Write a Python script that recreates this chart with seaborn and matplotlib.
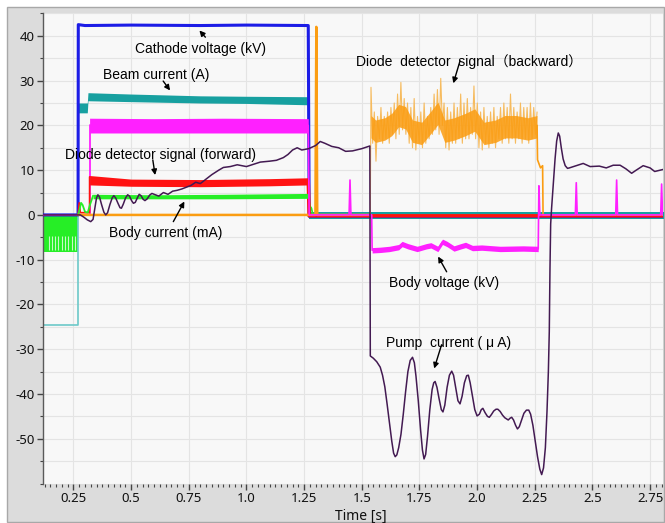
import numpy as np
import pandas as pd
import matplotlib
matplotlib.use("Agg")
import matplotlib.pyplot as plt
import seaborn as sns
from matplotlib.patches import Rectangle
from matplotlib.ticker import MultipleLocator, FixedLocator

# ---------------- data ----------------
xtick_vals = [0.25, 0.5, 0.75, 1.0, 1.25, 1.5, 1.75, 2.0, 2.25, 2.5, 2.75]
xtick_labels = ['0.25', '0.5', '0.75', '1.0', '1.25', '1.5', '1.75', '2.0', '2.25', '2.5', '2.75']
ytick_vals = [-50, -40, -30, -20, -10, 0, 10, 20, 30, 40]
ytick_labels = ['-50', '-40', '-30', '-20', '-10', '0', '10', '20', '30', '40']

# Cathode voltage (kV)
cathode_t = [0.12, 0.27, 0.271, 0.30, 0.5, 0.8, 1.0, 1.268, 1.272, 1.6, 2.81]
cathode_v = [0.0, 0.0, 42.5, 42.3, 42.4, 42.3, 42.4, 42.3, -0.3, -0.3, -0.3]

# Beam current (A)
beam_pre_t = [0.12, 0.27, 0.27]
beam_pre_v = [-24.5, -24.5, 23.5]
beam_t = [0.27, 0.31, 0.313, 0.5, 0.8, 1.0, 1.268]
beam_lo = [22.8, 22.8, 25.5, 25.3, 25.0, 24.9, 24.6]
beam_hi = [25.0, 25.0, 27.3, 27.0, 26.6, 26.5, 26.4]
beam_drop_t = [1.268, 1.272]
beam_drop_v = [25.5, -0.3]
beam_post_t = [1.272, 2.81]
beam_post_lo = [-1.0, -1.0]
beam_post_hi = [0.6, 0.6]

# Body voltage (kV)
bodyv_pre_t = [0.12, 0.32, 0.32]
bodyv_pre_v = [0.0, 0.0, 20.0]
bodyv_band_t = [0.32, 0.6, 0.9, 1.268]
bodyv_band_lo = [18.3, 18.3, 18.3, 18.3]
bodyv_band_hi = [21.6, 21.5, 21.6, 21.5]
bodyv_post_t = [1.268, 1.272, 1.445, 1.449, 1.453, 1.543, 1.545, 1.58, 1.62, 1.66, 1.675, 1.70,
                1.74, 1.78, 1.80, 1.83, 1.85, 1.87, 1.90, 1.93, 1.95, 1.98, 2.02, 2.10, 2.20,
                2.265, 2.268, 2.272, 2.426, 2.43, 2.434, 2.601, 2.605, 2.609, 2.796, 2.80,
                2.804, 2.81]
bodyv_post_v = [20.0, 0.0, 0.0, 7.8, 0.0, 0.0, -7.9, -7.8, -7.6, -7.2, -6.5, -7.0,
                -7.6, -7.0, -6.8, -7.6, -6.0, -6.5, -7.5, -7.0, -6.7, -7.4, -7.3, -7.6, -7.5,
                -7.6, 6.5, 0.0, 0.0, 7.2, 0.0, 0.0, 7.8, 0.0, 0.0, 6.9,
                0.0, 0.0]
bodyv_neg_t = [1.545, 1.58, 1.62, 1.66, 1.675, 1.70, 1.74, 1.78, 1.80, 1.83, 1.85, 1.87,
               1.90, 1.93, 1.95, 1.98, 2.02, 2.10, 2.20, 2.265]
bodyv_neg_v = [-7.9, -7.8, -7.6, -7.2, -6.5, -7.0, -7.6, -7.0, -6.8, -7.6, -6.0, -6.5,
               -7.5, -7.0, -6.7, -7.4, -7.3, -7.6, -7.5, -7.6]

# Diode detector signal (forward)
fwd_pre_t = [0.27, 0.275, 0.28, 0.32, 0.32]
fwd_pre_v = [0.0, 2.7, 0.5, 0.5, 8.5]
fwd_t = [0.32, 0.5, 0.8, 1.1, 1.268]
fwd_lo = [6.7, 6.4, 6.3, 6.5, 6.7]
fwd_hi = [8.8, 8.0, 7.9, 8.1, 8.3]
fwd_post_t = [1.268, 1.272, 2.81]
fwd_post_v = [7.5, -0.2, -0.2]

# Body current (mA)
bodyc_pre_t = [0.12, 0.27]
bodyc_pre_lo = [-8.3, -8.3]
bodyc_pre_hi = [0.0, 0.0]
bodyc_gap_t = [0.142, 0.156, 0.171, 0.185, 0.200, 0.214, 0.228, 0.243, 0.257]
bodyc_early_t = [0.27, 0.276, 0.283, 0.29, 0.30, 0.312, 0.32, 0.335]
bodyc_early_v = [0.0, 1.1, 2.7, 2.2, 0.7, 0.5, 2.0, 4.3]
bodyc_t = [0.335, 0.6, 0.9, 1.268]
bodyc_lo = [3.6, 3.6, 3.6, 3.7]
bodyc_hi = [4.6, 4.5, 4.6, 4.8]
bodyc_post_t = [1.268, 1.275, 1.282, 1.288, 2.81]
bodyc_post_v = [4.0, 2.0, 1.5, 0.0, 0.0]

# Diode detector signal (backward)
bwd_pre_t = [0.27, 1.299, 1.303, 1.307, 1.537]
bwd_pre_v = [0.0, 0.0, 42.0, 0.0, 0.0]
bwd_v = [28.5, 16, 23, 12, 22, 17, 24, 16, 22,
         17, 23, 16, 24, 18, 25, 17,
         27, 18, 29.6, 19, 26, 18, 25,
         16, 24, 15, 26, 14.5, 22, 16,
         23, 15, 25, 16, 22, 17, 24,
         18, 27, 19, 28, 18, 30.5, 20,
         25, 15, 24, 14.5, 23, 16, 25,
         16, 24, 17, 27, 16, 25, 17,
         26, 17, 24, 18, 28.8, 17, 25,
         15, 23, 14.5, 24, 16, 22, 15,
         23, 16, 24, 15, 22, 17, 24,
         16, 25, 17, 24, 16, 27, 17,
         24, 16, 23, 17, 25, 16, 24,
         17, 24, 16, 25, 17, 24, 18, 23]
bwd_start, bwd_end = 1.54, 2.26
bwd_center_t = [1.54, 1.56, 1.60, 1.63, 1.66, 1.69, 1.72, 1.76, 1.80, 1.83, 1.86, 1.90,
                1.95, 1.99, 2.03, 2.08, 2.12, 2.17, 2.22, 2.26]
bwd_center_v = [20, 19, 19.5, 20.5, 22.5, 22, 19, 18.5, 21, 23, 19, 19.5,
                20.5, 21.5, 18.5, 19, 20, 20, 19.5, 20]
bwd_tail_t = [2.26, 2.262, 2.275, 2.284, 2.286, 2.81]
bwd_tail_v = [20.0, 12.3, 10.5, 11.0, 0.0, 0.0]

# Pump current (uA)
pump_t = [0.12, 0.28, 0.295, 0.31, 0.325, 0.335, 0.343, 0.35, 0.356, 0.363, 0.372, 0.382,
          0.39, 0.398, 0.408, 0.418, 0.425, 0.433, 0.443, 0.452, 0.458, 0.466, 0.476, 0.485,
          0.493, 0.502, 0.51, 0.518, 0.527, 0.535, 0.543, 0.552, 0.56, 0.57, 0.58, 0.59, 0.60,
          0.62, 0.64, 0.66, 0.68, 0.70, 0.72, 0.74, 0.76, 0.78, 0.80, 0.82, 0.85, 0.88, 0.90,
          0.93, 0.96, 1.00, 1.03, 1.06, 1.10, 1.13, 1.16, 1.18, 1.20, 1.22, 1.24, 1.27, 1.30,
          1.32, 1.34, 1.37, 1.40, 1.43, 1.46, 1.50, 1.535,
          1.537, 1.55, 1.565, 1.58, 1.59, 1.60, 1.61, 1.62, 1.63, 1.638, 1.645, 1.652, 1.66,
          1.67, 1.68, 1.69, 1.70, 1.71, 1.72, 1.728, 1.735, 1.745, 1.755, 1.763, 1.77, 1.777,
          1.785, 1.795, 1.805, 1.812, 1.818, 1.826, 1.835, 1.845, 1.852, 1.86, 1.87, 1.88,
          1.89, 1.898, 1.907, 1.917, 1.926, 1.935, 1.945, 1.955, 1.962, 1.97, 1.98, 1.99,
          2.0, 2.01, 2.018, 2.025, 2.035, 2.045, 2.053, 2.062, 2.072, 2.082, 2.09, 2.1, 2.11,
          2.12, 2.135, 2.143, 2.15, 2.158, 2.167, 2.175, 2.183, 2.193, 2.203, 2.214, 2.224,
          2.232, 2.242, 2.252, 2.262, 2.272, 2.28, 2.288, 2.296, 2.303, 2.309, 2.313, 2.316,
          2.319, 2.323, 2.33, 2.338, 2.345, 2.352, 2.358, 2.365, 2.373, 2.382, 2.392, 2.40,
          2.43, 2.46, 2.49, 2.53, 2.56, 2.59, 2.62, 2.645, 2.67, 2.69, 2.72, 2.75, 2.77, 2.81]
pump_v = [0.0, 0.0, -0.5, -1.1, -1.5, -1.0, 1.5, 3.8, 4.5, 4.0, 2.3, 0.6,
          0.0, 0.5, 2.3, 3.8, 4.3, 3.8, 2.6, 1.6, 1.5, 2.4, 3.8, 4.5,
          4.2, 3.2, 2.6, 2.8, 3.8, 4.6, 4.3, 3.5, 3.2, 3.6, 4.4, 4.8, 4.6,
          4.2, 5.0, 4.6, 5.3, 5.5, 5.8, 6.2, 6.6, 7.3, 7.0, 7.8, 9.0, 10.0, 10.6,
          10.8, 11.2, 10.8, 11.3, 11.8, 12.0, 12.2, 12.8, 13.5, 14.5, 15.0, 14.5, 14.8, 15.5,
          16.4, 16.0, 15.3, 15.0, 14.2, 14.3, 14.8, 15.4,
          -31.5, -32.0, -32.8, -34.0, -35.8, -38.4, -42.3, -46.5, -50.5, -53.2, -54.0, -53.6, -52.0,
          -49.0, -44.5, -39.5, -35.0, -32.5, -31.8, -33.0, -36.0, -41.5, -48.0, -52.5, -54.5, -53.5,
          -49.5, -43.5, -39.0, -37.5, -37.2, -38.5, -41.0, -43.5, -44.0, -42.5, -38.5, -35.8,
          -34.9, -35.8, -38.5, -41.5, -42.2, -40.5, -37.5, -35.9, -35.8, -37.5, -40.5, -43.5,
          -44.9, -44.5, -43.5, -43.2, -44.2, -45.0, -45.2, -44.6, -43.8, -43.4, -43.4, -43.9, -44.7,
          -45.3, -45.8, -45.4, -45.2, -45.8, -47.0, -47.8, -47.3, -45.8, -44.3, -43.6, -43.6,
          -44.5, -47.0, -50.5, -54.0, -56.8, -58.0, -56.5, -52.0, -44.0, -35.0, -26.0, -12.0,
          -2.0, 1.5, 6.5, 12.5, 16.5, 18.3, 17.6, 15.0, 12.5, 11.0, 10.4, 10.5,
          11.0, 11.5, 10.8, 10.9, 10.5, 11.1, 11.1, 10.3, 9.3, 10.0, 11.0, 10.5, 9.7, 10.2]

# annotations: (text, text x, text y, arrow tail x, tail y, head x, head y)
ann_text = ['Cathode voltage (kV)', 'Beam current (A)', 'Diode detector signal (forward)',
            'Body current (mA)', 'Diode  detector  signal（backward）', 'Body voltage (kV)',
            'Pump  current ( \u03bc A)']
ann_tx = [0.801, 0.608, 0.627, 0.649, 1.965, 1.857, 1.875]
ann_ty = [37.1, 31.3, 13.4, -3.95, 34.3, -15.3, -28.5]
arr_x0 = [0.822, 0.639, 0.594, 0.683, 1.926, 1.868, 1.846]
arr_y0 = [39.7, 29.9, 12.3, -1.5, 34.4, -12.7, -29.0]
arr_x1 = [0.796, 0.669, 0.604, 0.731, 1.897, 1.831, 1.814]
arr_y1 = [41.2, 27.8, 8.9, 3.0, 29.4, -9.3, -34.3]

# ---------------- styling ----------------
sns.set_theme(style="white")
plt.rcParams['font.family'] = ['Liberation Sans', 'Noto Sans CJK SC', 'DejaVu Sans']
plt.rcParams['axes.unicode_minus'] = False

C_BLUE = '#1c1ce6'
C_TEAL = '#17a0a0'
C_TEAL_L = '#6cc9c9'
C_MAG = '#ff20ff'
C_RED = '#ff1212'
C_GREEN = '#26ee26'
C_ORANGE = '#fb9d12'
C_ORANGE_L = '#f6bb5e'
C_PURPLE = '#431a52'

W, H = 665, 523
fig = plt.figure(figsize=(W / 100, H / 100), dpi=100)
fig.patch.set_facecolor('white')
fig.patches.append(Rectangle((7 / W, 1 - 522 / H), (664 - 7) / W, (522 - 7) / H,
                             transform=fig.transFigure, facecolor='#dcdcdc',
                             edgecolor='#a8a8a8', lw=1.0, zorder=-10))
ax = fig.add_axes([43 / W, 1 - 484 / H, (663 - 43) / W, (484 - 13) / H])
ax.set_zorder(1)
ax.set_facecolor('#f8f8f8')


def line(t, v, color, lw=1.2, z=2, alpha=1.0):
    sns.lineplot(x=t, y=v, ax=ax, color=color, lw=lw, sort=False, estimator=None,
                 zorder=z, alpha=alpha, legend=False)


# body current comb before start
ax.fill_between(bodyc_pre_t, bodyc_pre_lo, bodyc_pre_hi, color=C_GREEN, lw=0, zorder=2)
ax.vlines(bodyc_gap_t, -7.8, -4.6, color='#c8f8c8', lw=0.8, zorder=2.1)

# beam current
line(beam_pre_t, beam_pre_v, C_TEAL_L, lw=1.2, z=2)
ax.fill_between(beam_t, beam_lo, beam_hi, color=C_TEAL, lw=0, zorder=3)
line(beam_drop_t, beam_drop_v, C_TEAL, lw=1.0, z=3)
ax.fill_between(beam_post_t, beam_post_lo, beam_post_hi, color=C_TEAL, lw=0, zorder=3)

# cathode voltage
line(cathode_t, cathode_v, C_BLUE, lw=2.2, z=4)

# body voltage
line(bodyv_pre_t, bodyv_pre_v, C_MAG, lw=1.3, z=4.5)
ax.fill_between(bodyv_band_t, bodyv_band_lo, bodyv_band_hi, color=C_MAG, lw=0, zorder=4)
line(bodyv_post_t, bodyv_post_v, C_MAG, lw=1.2, z=6)
ax.fill_between(bodyv_neg_t, np.array(bodyv_neg_v) - 0.6, np.array(bodyv_neg_v) + 0.6,
                color=C_MAG, lw=0, zorder=6)

# forward diode signal
line(fwd_pre_t, fwd_pre_v, C_RED, lw=1.2, z=5)
ax.fill_between(fwd_t, fwd_lo, fwd_hi, color=C_RED, lw=0, zorder=5)
line(fwd_post_t, fwd_post_v, C_RED, lw=2.5, z=5)

# body current
line(bodyc_early_t, bodyc_early_v, C_GREEN, lw=1.3, z=5)
ax.fill_between(bodyc_t, bodyc_lo, bodyc_hi, color=C_GREEN, lw=0, zorder=5)
line(bodyc_post_t, bodyc_post_v, C_GREEN, lw=1.2, z=4)

# backward diode signal
line(bwd_pre_t, bwd_pre_v, C_ORANGE, lw=1.8, z=5.5)
bwd_t = np.linspace(bwd_start, bwd_end, len(bwd_v))
line(np.concatenate([[1.537], bwd_t]), np.concatenate([[0.0], bwd_v]), C_ORANGE_L, lw=0.8, z=5)
ax.fill_between(bwd_center_t, np.array(bwd_center_v) - 2.8, np.array(bwd_center_v) + 2.2,
                color=C_ORANGE, lw=0, zorder=5.1, alpha=0.85)
line(bwd_tail_t, bwd_tail_v, C_ORANGE, lw=1.2, z=5)

# pump current
line(pump_t, pump_v, C_PURPLE, lw=1.1, z=7)

# ---------------- annotations ----------------
for s, tx, ty, x0, y0, x1, y1 in zip(ann_text, ann_tx, ann_ty, arr_x0, arr_y0, arr_x1, arr_y1):
    ax.text(tx, ty, s, ha='center', va='center', fontsize=10, color='black', zorder=10,
            family=['Liberation Sans', 'Noto Sans CJK SC', 'DejaVu Sans'])
    ax.annotate('', xy=(x1, y1), xytext=(x0, y0), zorder=10,
                arrowprops=dict(arrowstyle='-|>', color='black', lw=1.0,
                                mutation_scale=8, shrinkA=0, shrinkB=0))

# ---------------- axes ----------------
ax.set_xlim(0.118, 2.806)
ax.set_ylim(-60.1, 45.1)
ax.xaxis.set_major_locator(FixedLocator(xtick_vals))
ax.set_xticklabels(xtick_labels)
ax.xaxis.set_minor_locator(MultipleLocator(0.025))
ax.yaxis.set_major_locator(FixedLocator(ytick_vals))
ax.set_yticklabels(ytick_labels)
ax.yaxis.set_minor_locator(MultipleLocator(5))

ax.grid(False)
ax.xaxis.grid(True, which='major', color='#e4e4e4', lw=0.8)
ax.yaxis.grid(True, which='both', color='#e4e4e4', lw=0.8)
ax.set_axisbelow(True)

for sp in ['top', 'right', 'bottom']:
    ax.spines[sp].set_visible(False)
ax.spines['left'].set_color('#5a5a5a')
ax.spines['left'].set_linewidth(1.0)

ax.tick_params(axis='both', which='major', direction='out', length=4, width=1,
               color='#444444', labelsize=9.5, labelcolor='#111111', pad=2, left=True, bottom=True)
ax.tick_params(axis='both', which='minor', direction='out', length=2.5, width=0.8,
               color='#444444', left=True, bottom=True)
for lab in ax.get_xticklabels() + ax.get_yticklabels():
    lab.set_family('Noto Sans')

ax.set_xlabel('Time [s]', fontsize=10, family='Noto Sans', color='#111111')
ax.xaxis.set_label_coords(0.513, -0.052)
ax.set_ylabel('')

fig.savefig('out.png', dpi=100, facecolor=fig.get_facecolor())
